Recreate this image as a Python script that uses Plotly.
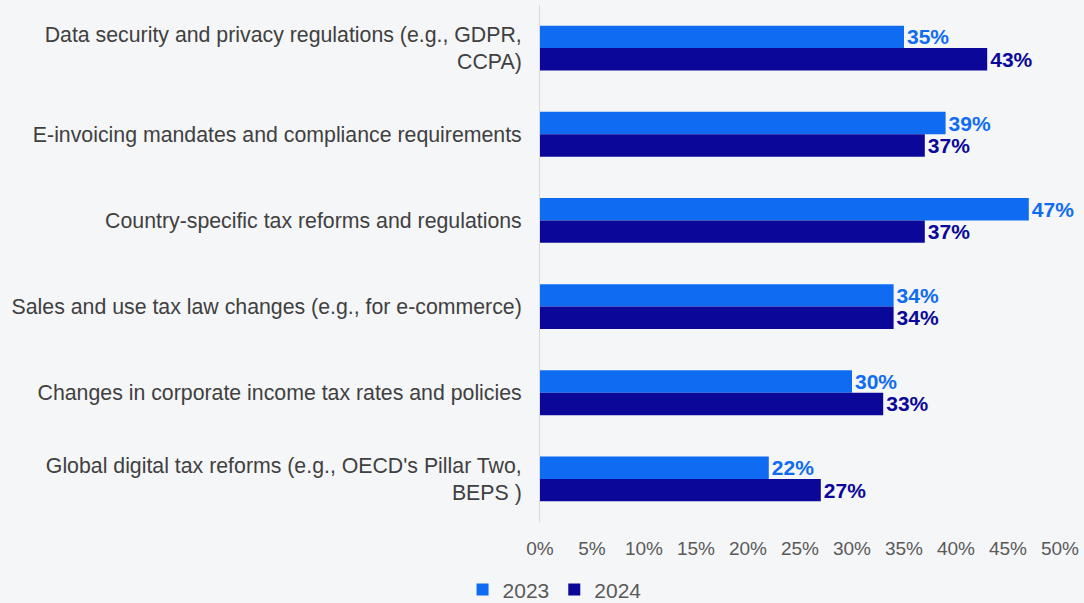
import plotly.graph_objects as go

categories = [
    "Data security and privacy regulations (e.g., GDPR,<br>CCPA)",
    "E-invoicing mandates and compliance requirements",
    "Country-specific tax reforms and regulations",
    "Sales and use tax law changes (e.g., for e-commerce)",
    "Changes in corporate income tax rates and policies",
    "Global digital tax reforms (e.g., OECD's Pillar Two,<br>BEPS )",
]
values_2023 = [35, 39, 47, 34, 30, 22]
values_2024 = [43, 37, 37, 34, 33, 27]
tick_vals = [0, 5, 10, 15, 20, 25, 30, 35, 40, 45, 50]

c2023 = "#0f6cf2"
c2024 = "#0b0899"
bg = "#f5f6f8"
FONT = "Liberation Sans, Arial"

fig = go.Figure()
for name, vals, col in [("2023", values_2023, c2023), ("2024", values_2024, c2024)]:
    fig.add_trace(go.Bar(
        y=categories, x=vals, name=name, orientation="h",
        marker=dict(color=col, line=dict(width=0)),
        text=[f"{v}%" for v in vals], textposition="outside",
        constraintext="none",
        textfont=dict(family=FONT, size=21, color=col, weight="bold"),
        cliponaxis=False,
    ))

fig.update_layout(
    barmode="group", bargap=0.48, bargroupgap=0,
    width=1084, height=603,
    paper_bgcolor=bg, plot_bgcolor=bg,
    margin=dict(l=540, r=24, t=5, b=81, autoexpand=False),
    font=dict(family=FONT, size=19, color="#555555"),
    xaxis=dict(range=[0, 50], tickvals=tick_vals,
               ticktext=[f"{v}%" for v in tick_vals],
               showgrid=False, zeroline=False, showline=False,
               ticklabelstandoff=13,
               tickfont=dict(size=19, color="#595959")),
    yaxis=dict(autorange="reversed", showgrid=False, zeroline=False,
               showline=True, linecolor="#d9d9d9", linewidth=1,
               ticklabelstandoff=13,
               tickfont=dict(size=21.3, color="#404040")),
    legend=dict(orientation="h", x=0.028, xanchor="center",
                yref="container", y=0.022, yanchor="middle",
                font=dict(size=21, color="#595959"), bgcolor="rgba(0,0,0,0)",
                itemwidth=30, traceorder="normal"),
    showlegend=True,
)

fig.write_html("out.html")
